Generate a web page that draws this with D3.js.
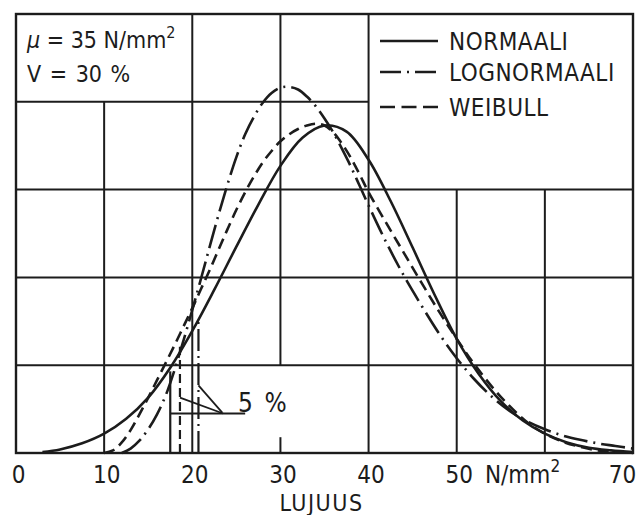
<!DOCTYPE html>
<html>
<head>
<meta charset="utf-8">
<script src="https://cdn.jsdelivr.net/npm/d3@7"></script>
<style>
  html, body { margin: 0; padding: 0; background: #ffffff; }
  svg { display: block; }
  text { font-family: "DejaVu Sans Condensed", "Liberation Sans", sans-serif; fill: #1c1c1c; }
</style>
</head>
<body>
<svg id="chart" width="643" height="515"></svg>
<script>
// ---------- data ----------
// strength values (N/mm²) and probability density (1/(N/mm²))
const normalX = [3, 5, 7.5, 10, 12.5, 15, 17.5, 20, 22.5, 25, 27.5, 30, 32.5, 35, 37.5, 40, 42.5, 45, 47.5, 50, 52.5, 55, 57.5, 60, 62.5, 65, 67.5, 70];
const normalY = [0.0001, 0.0004, 0.0011, 0.0022, 0.0039, 0.0063, 0.0097, 0.0139, 0.0186, 0.0235, 0.0283, 0.0327, 0.0359, 0.0373, 0.0366, 0.0334, 0.0287, 0.0234, 0.0180, 0.0130, 0.0090, 0.0059, 0.0037, 0.0022, 0.0012, 0.0006, 0.0003, 0.0001];

const lognormX = [12, 13, 14, 15, 16, 17, 18, 19, 20, 21, 22, 23, 24, 25, 26, 27, 28, 29, 30, 31, 32, 33, 34, 35, 36, 37, 38, 39, 40, 42, 44, 46, 48, 50, 52, 54, 56, 58, 60, 62, 64, 66, 68, 70];
const lognormY = [0.0000, 0.0005, 0.0014, 0.0027, 0.0044, 0.0066, 0.0095, 0.0128, 0.0163, 0.0199, 0.0236, 0.0272, 0.0306, 0.0337, 0.0363, 0.0383, 0.0399, 0.0410, 0.0416, 0.0417, 0.0414, 0.0406, 0.0395, 0.0381, 0.0365, 0.0346, 0.0326, 0.0304, 0.0282, 0.0240, 0.0202, 0.0168, 0.0136, 0.0108, 0.0084, 0.0064, 0.0048, 0.0036, 0.0027, 0.0020, 0.0015, 0.0011, 0.0008, 0.0005];

const weibullX = [10, 11, 12, 13, 14, 15, 16, 17, 18, 19, 20, 21, 22, 23, 24, 25, 26, 27, 28, 29, 30, 31, 32, 33, 34, 35, 36, 37, 38, 39, 40, 42, 44, 46, 48, 50, 52, 55, 58, 60, 62, 64, 66, 68, 70];
const weibullY = [0.0000, 0.0003, 0.0012, 0.0026, 0.0044, 0.0063, 0.0083, 0.0103, 0.0123, 0.0144, 0.0165, 0.0187, 0.0209, 0.0232, 0.0255, 0.0277, 0.0297, 0.0315, 0.0331, 0.0344, 0.0355, 0.0363, 0.0369, 0.0373, 0.0375, 0.0373, 0.0365, 0.0352, 0.0336, 0.0317, 0.0297, 0.0262, 0.0228, 0.0194, 0.0161, 0.0130, 0.0101, 0.0064, 0.0035, 0.0022, 0.0013, 0.0007, 0.0003, 0.0001, 0.0000];

// 5 % fractiles: value and height of the marker line
const fractileNames = ["NORMAALI", "WEIBULL", "LOGNORMAALI"];
const fractileX = [17.5, 18.6, 20.7];
const fractileTop = [0.0093, 0.0121, 0.0155];

// axis tick labels
const xTicks = [0, 10, 20, 30, 40, 50, 70];
const legendNames = ["NORMAALI", "LOGNORMAALI", "WEIBULL"];

// ---------- layout ----------
const W = 643, H = 515;
const mLeft = 16, mRight = 633, mTop = 14, mBottom = 453;
const ink = "#1c1c1c";

const svg = d3.select("#chart");
svg.append("rect").attr("width", W).attr("height", H).attr("fill", "#ffffff");

const x = d3.scaleLinear().domain([0, 70]).range([mLeft, mRight]);
const y = d3.scaleLinear().domain([0, 0.05]).range([mBottom, mTop]);

const grid = svg.append("g").attr("stroke", ink).attr("stroke-width", 2).attr("fill", "none");
// horizontal grid lines
[0.01, 0.02, 0.03].forEach(v => {
  grid.append("line").attr("x1", x(0)).attr("x2", x(70)).attr("y1", y(v)).attr("y2", y(v));
});
grid.append("line").attr("x1", x(0)).attr("x2", x(40)).attr("y1", y(0.04)).attr("y2", y(0.04));
// vertical grid lines
grid.append("line").attr("x1", x(10)).attr("x2", x(10)).attr("y1", y(0)).attr("y2", y(0.04));
grid.append("line").attr("x1", x(20)).attr("x2", x(20)).attr("y1", y(0)).attr("y2", y(0.05));
grid.append("line").attr("x1", x(30)).attr("x2", x(30)).attr("y1", y(0.01)).attr("y2", y(0.05));
grid.append("line").attr("x1", x(30)).attr("x2", x(30)).attr("y1", y(0)).attr("y2", y(0.0018));
grid.append("line").attr("x1", x(40)).attr("x2", x(40)).attr("y1", y(0)).attr("y2", y(0.05));
[50, 60].forEach(v => {
  grid.append("line").attr("x1", x(v)).attr("x2", x(v)).attr("y1", y(0)).attr("y2", y(0.03));
});
// frame
grid.append("rect").attr("x", x(0)).attr("y", y(0.05)).attr("width", x(70) - x(0)).attr("height", y(0) - y(0.05)).attr("stroke-width", 2.4);

// ---------- curves ----------
const styles = {
  NORMAALI: null,
  LOGNORMAALI: "24,6,2,6",
  WEIBULL: "11,6"
};
const line = d3.line().x(d => x(d[0])).y(d => y(d[1])).curve(d3.curveCatmullRom.alpha(0.5));
const series = [
  { name: "NORMAALI", xs: normalX, ys: normalY },
  { name: "LOGNORMAALI", xs: lognormX, ys: lognormY },
  { name: "WEIBULL", xs: weibullX, ys: weibullY }
];
const curves = svg.append("g").attr("fill", "none").attr("stroke", ink).attr("stroke-width", 2.6).attr("stroke-linecap", "butt");
series.forEach(s => {
  curves.append("path")
    .attr("d", line(s.xs.map((v, i) => [v, s.ys[i]])))
    .attr("stroke-dasharray", styles[s.name]);
});

// ---------- 5 % fractile markers ----------
const marks = svg.append("g").attr("fill", "none").attr("stroke", ink).attr("stroke-width", 2.2);
fractileNames.forEach((n, i) => {
  marks.append("line")
    .attr("x1", x(fractileX[i])).attr("x2", x(fractileX[i]))
    .attr("y1", y(0)).attr("y2", y(fractileTop[i]))
    .attr("stroke-dasharray", n === "WEIBULL" ? "9,5" : (n === "LOGNORMAALI" ? "22,5,2,5" : null));
});
// leader lines to the "5 %" label
marks.append("line").attr("x1", x(fractileX[0])).attr("x2", x(26.0)).attr("y1", y(0.0045)).attr("y2", y(0.0045));
marks.append("line").attr("x1", x(fractileX[1])).attr("x2", x(23.5)).attr("y1", y(0.0063)).attr("y2", y(0.0045)).attr("stroke-width", 1.8);
marks.append("line").attr("x1", x(fractileX[2])).attr("x2", x(23.4)).attr("y1", y(0.0077)).attr("y2", y(0.0046)).attr("stroke-width", 1.8);
svg.append("text").attr("x", x(25.2)).attr("y", y(0.0047)).attr("font-size", 26).attr("word-spacing", 4).text("5 %");

// ---------- x axis ----------
const axis = d3.axisBottom(x).tickValues(xTicks).tickSize(0).tickPadding(0).tickFormat(d3.format("d"));
const ax = svg.append("g").attr("transform", `translate(0, ${mBottom})`).call(axis);
ax.select(".domain").remove();
ax.selectAll("text")
  .attr("font-size", 24)
  .attr("fill", ink)
  .attr("dy", null)
  .attr("y", 30)
  .attr("dx", d => d === 70 ? -11 : 2)
  .style("font-family", "\"DejaVu Sans Condensed\", sans-serif");
const unit = svg.append("text").attr("x", x(53.2)).attr("y", mBottom + 30).attr("font-size", 24);
unit.append("tspan").text("N/mm");
unit.append("tspan").attr("font-size", 17).attr("dy", -11).text("2");
svg.append("text").attr("x", (mLeft + mRight) / 2 - 3).attr("y", 511).attr("text-anchor", "middle").attr("font-size", 23).attr("letter-spacing", 1.5).text("LUJUUS");

// ---------- parameter box ----------
const p1 = svg.append("text").attr("x", 27).attr("y", 48).attr("font-size", 23);
p1.append("tspan").attr("font-style", "italic").text("μ");
p1.append("tspan").text(" = 35 N/mm");
p1.append("tspan").attr("font-size", 16).attr("dy", -10).text("2");
svg.append("text").attr("x", 27).attr("y", 82).attr("font-size", 23).attr("word-spacing", 2).text("V = 30 %");

// ---------- legend ----------
const legend = svg.append("g");
const legendY = [41, 72, 107];
legendNames.forEach((n, i) => {
  legend.append("line")
    .attr("x1", 380).attr("x2", 438).attr("y1", legendY[i]).attr("y2", legendY[i])
    .attr("stroke", ink).attr("stroke-width", 2.6)
    .attr("stroke-dasharray", n === "LOGNORMAALI" ? "21,6,2,6" : (n === "WEIBULL" ? "15,6.5" : null));
  legend.append("text").attr("x", 449).attr("y", legendY[i] + 9).attr("font-size", 24).attr("letter-spacing", 0.5).text(n);
});
</script>
</body>
</html>
